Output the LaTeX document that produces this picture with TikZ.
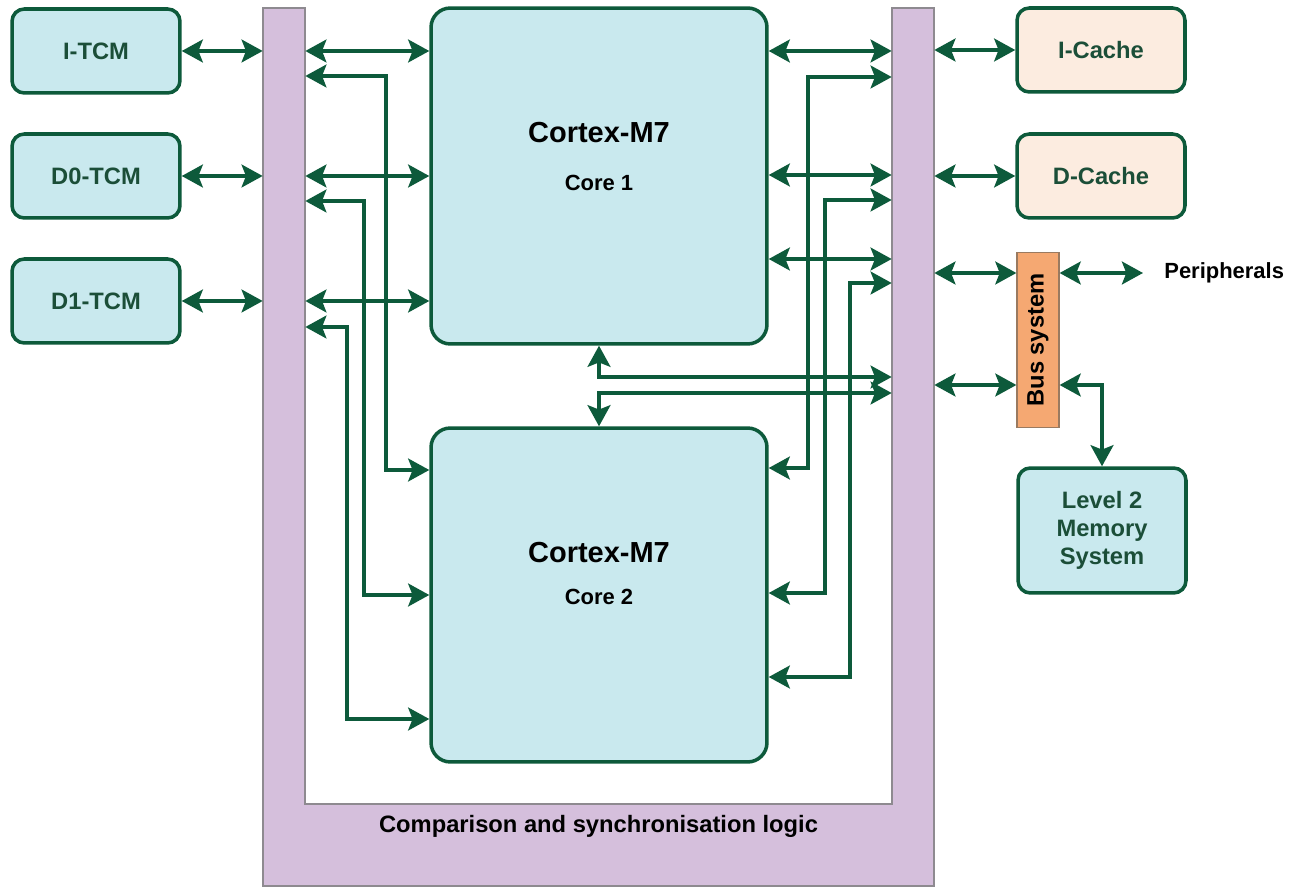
\documentclass[tikz,border=0pt]{standalone}
\usepackage{fontspec}
\setmainfont{Liberation Sans}
\usetikzlibrary{arrows.meta}
\definecolor{dkgreen}{HTML}{0D5A3B}
\definecolor{txtgreen}{HTML}{1B4E38}
\definecolor{boxfill}{HTML}{C9E9EE}
\definecolor{cachefill}{HTML}{FCECE0}
\definecolor{purplefill}{HTML}{D5BFDC}
\definecolor{purpleline}{HTML}{8E8A90}
\definecolor{busfill}{HTML}{F5A872}
\definecolor{busline}{HTML}{9A7A60}
\begin{document}
\begin{tikzpicture}[x=0.02cm,y=-0.02cm,
  >={Stealth[length=12pt,width=13pt,inset=2.5pt]},
  conn/.style={draw=dkgreen,line width=2pt,<->},
  smallbox/.style={draw=dkgreen,line width=2pt,rounded corners=7pt,fill=boxfill,
    text=txtgreen,font=\bfseries\fontsize{13.5}{16}\selectfont,
    minimum width=3.36cm,minimum height=1.68cm,inner sep=0pt,align=center},
  cachebox/.style={smallbox,fill=cachefill},
  corebox/.style={draw=dkgreen,line width=2pt,rounded corners=11pt,fill=boxfill,
    minimum width=6.72cm,minimum height=6.72cm,inner sep=0pt},
  coretitle/.style={font=\bfseries\fontsize{16.5}{19}\selectfont},
  coresub/.style={font=\bfseries\fontsize{12.5}{15}\selectfont},
  barnode/.style={minimum width=0.84cm,minimum height=17.56cm,inner sep=0pt}
]
\useasboundingbox[fill=white] (0,0) rectangle (1291,888);

% comparison and synchronisation logic (U shape)
\path[fill=purplefill,draw=purpleline,line width=0.7pt]
  (263,8) -- (305,8) -- (305,804) -- (892,804) -- (892,8) -- (934,8)
  -- (934,886) -- (263,886) -- cycle;
\node[barnode] (lbar) at (284,447) {};
\node[barnode] (rbar) at (913,447) {};
\node[font=\bfseries\fontsize{13.5}{16}\selectfont] (cmp) at (598.5,826) {Comparison and synchronisation logic};

% TCMs
\node[smallbox] (itcm) at (96,51) {I-TCM};
\node[smallbox] (d0tcm) at (96,176) {D0-TCM};
\node[smallbox] (d1tcm) at (96,301) {D1-TCM};

% caches
\node[cachebox] (icache) at (1101,50) {I-Cache};
\node[cachebox] (dcache) at (1101,176) {D-Cache};

% cores
\node[corebox] (core1) at (599,176) {};
\node[coretitle] (c1a) at (599,133) {Cortex-M7};
\node[coresub] (c1b) at (599,183) {Core 1};
\node[corebox,minimum height=6.68cm] (core2) at (599,595) {};
\node[coretitle] (c2a) at (599,553) {Cortex-M7};
\node[coresub] (c2b) at (599,597) {Core 2};

% bus system, L2, peripherals
\node[draw=busline,line width=0.7pt,fill=busfill,minimum width=0.84cm,minimum height=3.5cm,inner sep=0pt,
  font=\bfseries\fontsize{13.5}{16}\selectfont] (bus) at (1038,340) {\rotatebox{90}{Bus system}};
\node[smallbox,minimum height=2.5cm] (l2) at (1102,530.5) {Level 2\\Memory\\System};
\node[anchor=west,inner xsep=0.42cm,inner ysep=0pt,font=\bfseries\fontsize{12.5}{15}\selectfont] (periph) at (1143,273) {Peripherals};

% TCM <-> left bar
\draw[conn] (itcm.east) -- (itcm.east -| lbar.west);
\draw[conn] (d0tcm.east) -- (d0tcm.east -| lbar.west);
\draw[conn] (d1tcm.east) -- (d1tcm.east -| lbar.west);
% left bar <-> core 1
\draw[conn] (lbar.east |- itcm) -- (core1.west |- itcm);
\draw[conn] (lbar.east |- d0tcm) -- (core1.west |- d0tcm);
\draw[conn] (lbar.east |- d1tcm) -- (core1.west |- d1tcm);
% left bar <-> core 2
\draw[conn] (lbar.east |- 0,76) -| (386,470) -- (core2.west |- 0,470);
\draw[conn] (lbar.east |- 0,201) -| (364,595) -- (core2.west |- 0,595);
\draw[conn] (lbar.east |- 0,327) -| (347,719) -- (core2.west |- 0,719);

% core 1 <-> right bar
\draw[conn] (core1.east |- 0,51) -- (rbar.west |- 0,51);
\draw[conn] (core1.east |- 0,175) -- (rbar.west |- 0,175);
\draw[conn] (core1.east |- 0,259) -- (rbar.west |- 0,259);
% core 2 <-> right bar
\draw[conn] (core2.east |- 0,468) -| (808,77) -- (rbar.west |- 0,77);
\draw[conn] (core2.east |- 0,593) -| (825,200) -- (rbar.west |- 0,200);
\draw[conn] (core2.east |- 0,677) -| (850,283) -- (rbar.west |- 0,283);
% cores (centre) <-> right bar
\draw[conn] (core1.south) |- (rbar.west |- 0,377);
\draw[conn] (core2.north) |- (rbar.west |- 0,393);

% right bar <-> caches, bus
\draw[conn] (rbar.east |- icache) -- (icache.west);
\draw[conn] (rbar.east |- dcache) -- (dcache.west);
\draw[conn] (rbar.east |- 0,273) -- (bus.west |- 0,273);
\draw[conn] (rbar.east |- 0,385) -- (bus.west |- 0,385);
\draw[conn] (bus.east |- periph.west) -- (periph.west);
\draw[conn] (bus.east |- 0,385) -| (l2.north);
\end{tikzpicture}
\end{document}
